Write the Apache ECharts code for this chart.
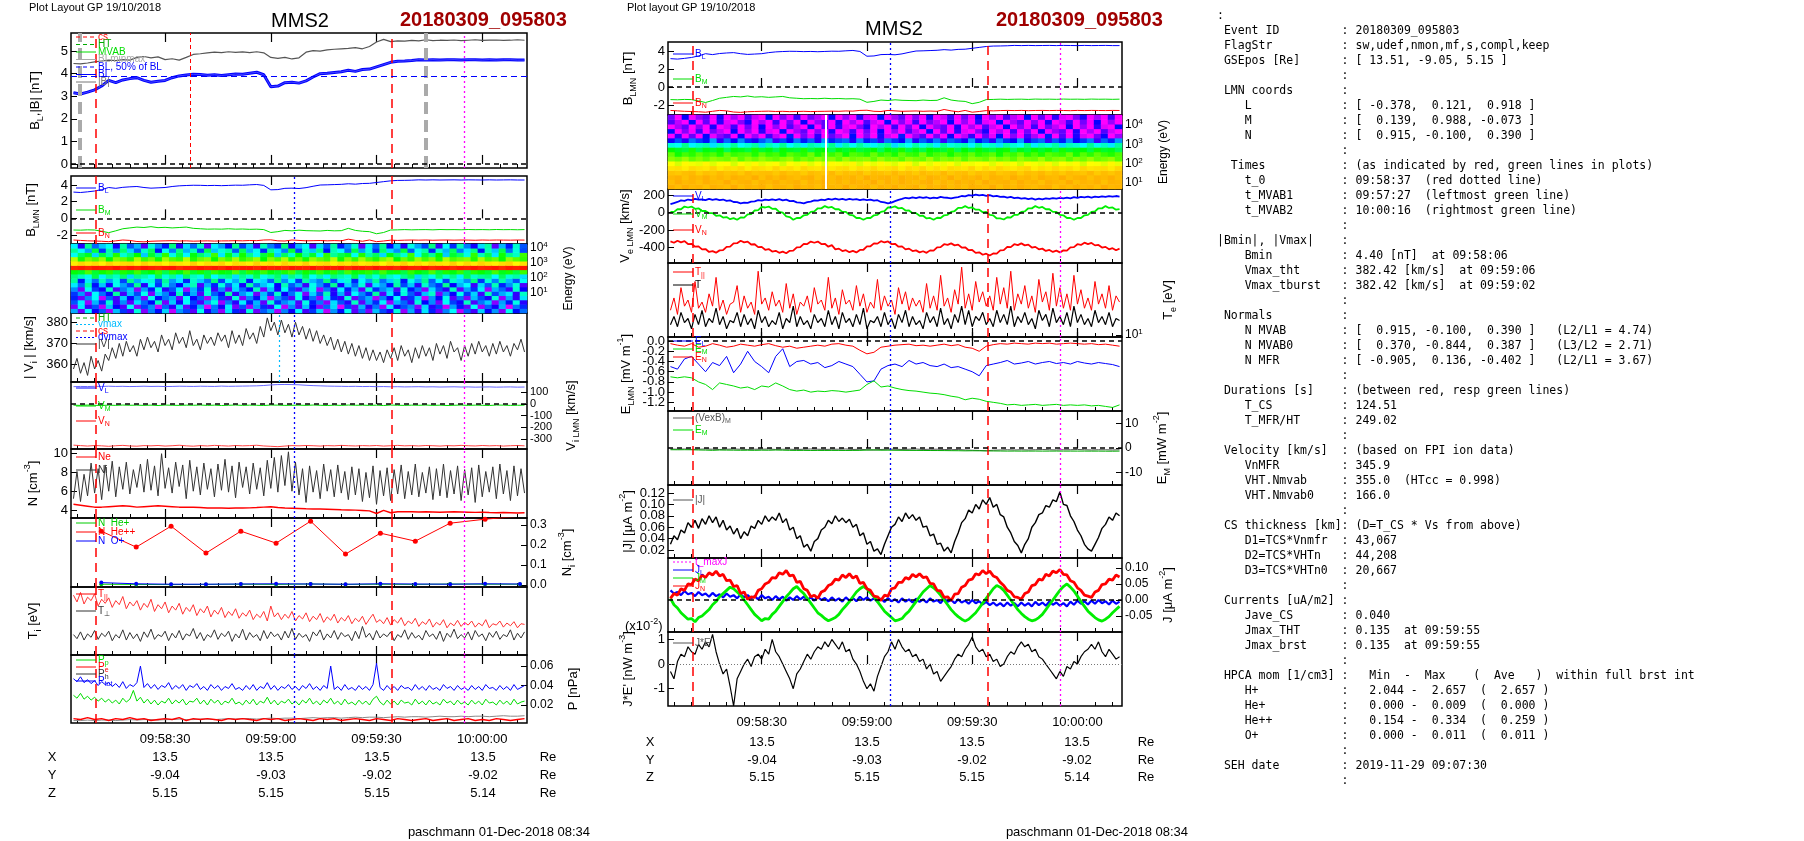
<!DOCTYPE html>
<html><head><meta charset="utf-8">
<script src="https://cdn.jsdelivr.net/npm/echarts@6/dist/echarts.min.js"></script>
<style>html,body{margin:0;padding:0;background:#fff}#c{width:1804px;height:841px}</style>
</head><body><div id="c"></div>
<script>
// ---------------- DATA ----------------
const T1 = []; for (let t = 4; t <= 132; t++) T1.push(t);        // seconds after 09:58:00, 1 s
const T2 = []; for (let t = 4; t <= 132; t += 2) T2.push(t);     // 2 s
const timeTicks = [30, 60, 90, 120];
const timeTickLabels = ['09:58:30', '09:59:00', '09:59:30', '10:00:00'];
const posX = ['13.5', '13.5', '13.5', '13.5'];
const posY = ['-9.04', '-9.03', '-9.02', '-9.02'];
const posZ = ['5.15', '5.15', '5.15', '5.14'];
const markTimes = { csL: 10.3, csR: 94.3, t0: 37, dvmax: 66.7, vmax: 62.3, maxJ: 115, grayL: 5.9, grayR: 103.9 };

const bMag = [4.45,4.43,4.47,4.52,4.56,4.6,4.58,4.62,4.6,4.72,4.76,4.7,4.74,4.62,4.66,4.6,4.72,4.85,4.88,4.92,4.95,4.93,4.97,4.94,4.96,4.93,4.97,4.92,4.72,4.68,4.72,4.65,4.7,4.95,5.02,5.0,5.05,5.08,5.1,5.12,5.15,5.1,5.2,5.4,5.52,5.42,5.45,5.44,5.47,5.45,5.5,5.46,5.48,5.47,5.49,5.46,5.48,5.5,5.47,5.48,5.49,5.47,5.48,5.5,5.48];
const bL = [3.15,3.1,3.18,3.28,3.45,3.7,3.6,3.72,3.78,3.82,3.7,3.62,3.66,3.7,3.82,3.9,3.94,3.97,3.96,3.93,3.95,3.92,3.95,3.98,3.97,4.02,4.06,3.95,3.42,3.45,3.6,3.62,3.58,3.68,3.85,4.0,4.02,4.05,4.08,4.15,4.1,4.18,4.2,4.3,4.4,4.5,4.55,4.56,4.58,4.62,4.6,4.62,4.6,4.61,4.62,4.6,4.62,4.61,4.6,4.62,4.6,4.61,4.62,4.6,4.6];
const bM = [-1.4,-1.42,-1.38,-1.4,-1.55,-1.72,-1.5,-1.25,-1.15,-1.05,-1.1,-1.0,-1.12,-1.08,-1.15,-1.1,-1.05,-1.2,-1.25,-1.3,-1.28,-1.3,-1.25,-1.3,-1.28,-1.32,-1.3,-1.35,-1.7,-1.6,-1.45,-1.5,-1.42,-1.48,-1.5,-1.52,-1.45,-1.5,-1.48,-1.2,-1.45,-1.55,-1.6,-1.85,-1.7,-1.4,-1.38,-1.35,-1.38,-1.36,-1.35,-1.38,-1.34,-1.36,-1.35,-1.37,-1.34,-1.36,-1.35,-1.37,-1.34,-1.36,-1.35,-1.37,-1.35];
const bN = [-2.6,-2.65,-2.7,-2.72,-2.75,-2.8,-2.7,-2.6,-2.65,-2.78,-2.82,-2.75,-2.72,-2.7,-2.68,-2.72,-2.7,-2.74,-2.72,-2.7,-2.73,-2.71,-2.7,-2.68,-2.7,-2.66,-2.68,-2.6,-2.58,-2.7,-2.72,-2.6,-2.65,-2.7,-2.68,-2.66,-2.7,-2.67,-2.7,-2.5,-2.65,-2.75,-2.6,-2.8,-2.72,-2.62,-2.65,-2.62,-2.6,-2.62,-2.6,-2.63,-2.61,-2.6,-2.62,-2.6,-2.61,-2.63,-2.6,-2.62,-2.6,-2.61,-2.62,-2.6,-2.61];

const viMag = [358,363,356,361,355,364,358,362,357,365, 362,368,363,370,364,371,366,369,364,372, 367,373,368,371,366,374,369,372,367,375, 370,373,368,376,369,372,367,374,370,373, 369,375,371,374,368,376,370,374,369,377, 372,375,370,378,373,382,376,380,374,381, 375,379,373,380,374,378,372,377,371,376, 370,374,369,373,367,372,366,371,365,370, 364,369,363,368,362,367,362,366,361,367, 363,368,362,369,364,367,361,368,363,369, 364,368,362,370,365,369,363,371,366,368, 362,369,364,370,365,371,366,369,364,370, 365,371,366,369,364,370,367,372,366];
const viL = [148,150,149,151,150,152,150,151,149,150,152,150,151,149,150,152,151,150,152,151,150,153,151,152,153,154,155,158,163,166,167,166,164,160,157,155,153,152,151,150,151,149,150,148,149,147,148,146,147,148,146,147,145,146,147,145,146,144,145,146,144,145,146,144,145];
const viM = [-10,-12,-9,-11,-13,-10,-12,-9,-11,-10,-12,-10,-13,-9,-11,-12,-10,-11,-9,-12,-10,-13,-11,-9,-12,-10,-11,-13,-9,-10,-12,-11,-10,-12,-9,-11,-13,-10,-12,-9,-11,-10,-12,-10,-13,-9,-11,-12,-10,-11,-9,-12,-10,-13,-11,-9,-12,-10,-11,-13,-9,-10,-12,-11,-10];
const viN = [-352,-356,-360,-355,-358,-362,-357,-354,-359,-361,-356,-358,-355,-360,-357,-353,-358,-361,-356,-359,-354,-357,-360,-355,-358,-356,-353,-359,-362,-365,-360,-356,-358,-355,-357,-360,-356,-358,-354,-357,-359,-356,-358,-355,-360,-357,-354,-358,-356,-359,-355,-357,-360,-356,-358,-354,-357,-359,-355,-358,-356,-360,-357,-355,-358];

const nI = [5.2,8.1,4.9,7.8,5.5,9.0,5.8,8.4,5.1,8.8, 6.0,9.2,5.4,8.6,6.2,9.1,5.7,8.3,6.4,8.9, 5.9,9.4,6.1,8.7,5.5,10.0,6.3,8.5,5.8,9.1, 6.5,8.8,5.2,9.3,6.0,8.6,5.6,9.0,6.2,8.4, 5.4,8.9,6.1,9.4,5.9,8.7,5.3,9.1,6.4,8.6, 5.7,9.0,6.2,8.5,5.5,9.3,6.3,9.6,5.9,9.8, 6.6,10.2,6.0,9.1,5.6,8.4,4.8,8.7,5.9,8.2, 5.2,8.9,6.0,8.3,5.4,8.8,5.8,8.1,5.1,8.6, 5.6,8.4,4.9,8.0,5.3,8.7,4.6,8.2,5.5,8.5, 5.0,8.3,5.7,8.8,5.2,8.1,5.6,8.9,5.4,8.0, 5.8,8.6,5.1,8.4,5.5,8.9,5.3,8.2,5.7,8.7, 5.0,8.3,5.6,8.5,4.8,8.8,5.4,8.1,5.9,8.6, 5.2,8.9,5.7,8.2,5.0,8.7,5.5,8.4,5.8];
const nE = [4.6,4.5,4.4,4.3,4.3,4.35,4.4,4.45,4.4,4.3,4.35,4.4,4.45,4.4,4.35,4.3,4.3,4.28,4.25,4.2,4.22,4.2,4.18,4.2,4.2,4.22,4.25,4.3,4.35,4.25,4.2,4.18,4.15,4.12,4.1,4.1,4.08,4.05,4.02,4.0,3.98,3.95,3.9,3.62,3.95,3.7,3.8,3.82,3.8,3.78,3.8,3.78,3.76,3.78,3.8,3.78,3.76,3.74,3.75,3.72,3.7,3.72,3.7,3.68,3.7];

const niT = [11.9,21.8,31.7,41.6,51.5,61.5,71.3,81.2,91.1,101,110.9,120.8,130.7];
const niHePP = [0.27,0.19,0.295,0.16,0.27,0.21,0.32,0.155,0.26,0.22,0.31,0.33,0.345];
const niHeP = [0.004,0.003,0.002,0.003,0.004,0.003,0.005,0.003,0.004,0.003,0.005,0.004,0.004];
const niOP = [0.012,0.006,0.004,0.004,0.005,0.006,0.005,0.004,0.006,0.005,0.004,0.006,0.005];

const tiPar = [88,78,92,75,85,80,90,72,82,76, 84,70,80,74,86,68,78,72,80,66, 76,70,82,64,74,68,78,62,72,66, 76,60,70,64,74,58,68,62,72,56, 66,60,70,55,64,58,68,54,62,57, 66,52,60,55,64,50,72,56,62,52, 60,54,64,50,58,53,62,49,57,52, 61,48,56,51,60,47,55,50,58,46, 54,49,57,45,53,60,48,52,46,55, 44,52,47,55,43,50,46,54,42,49, 45,53,41,48,44,52,40,47,43,51, 42,48,44,50,41,47,43,52,40,46, 44,50,41,47,43,49,40,46,45];
const tiPerp = [30,24,34,22,31,26,36,23,32,27, 35,21,30,25,37,22,33,24,31,20, 34,26,38,23,30,27,35,21,32,25, 36,22,31,28,39,24,33,21,30,26, 37,23,32,27,35,20,31,25,38,22, 33,26,30,21,36,24,34,27,31,22, 35,25,39,23,32,26,30,20,34,28, 37,22,31,25,36,23,33,27,30,21, 35,24,42,26,32,22,36,25,31,27, 34,21,30,26,37,23,33,25,29,22, 36,27,31,23,35,20,32,26,38,24, 30,25,34,22,36,27,31,21,33,26, 35,23,30,27,37,22,32,25,34];

const pTot = [.047,.044,.049,.043,.046,.042,.045,.040,.044,.041, .043,.039,.042,.038,.044,.037,.041,.039,.043,.060, .038,.042,.037,.041,.036,.040,.038,.043,.036,.040, .037,.041,.035,.040,.038,.042,.036,.039,.035,.041, .037,.040,.035,.039,.037,.042,.036,.038,.035,.040, .036,.041,.035,.039,.037,.043,.036,.040,.035,.039, .037,.041,.036,.039,.035,.040,.037,.042,.036,.039, .035,.040,.037,.060,.036,.039,.035,.041,.036,.038, .035,.040,.036,.039,.035,.041,.063,.038,.035,.040, .036,.039,.035,.040,.037,.038,.035,.041,.036,.039, .035,.040,.036,.038,.035,.041,.037,.039,.035,.040, .036,.038,.035,.040,.036,.039,.035,.041,.037,.038, .035,.040,.036,.039,.035,.041,.036,.038,.040];
const pP = [.030,.027,.032,.026,.029,.025,.028,.024,.027,.023, .026,.022,.025,.021,.027,.023,.026,.035,.024,.028, .022,.026,.021,.025,.020,.024,.022,.027,.021,.025, .022,.026,.020,.024,.023,.027,.021,.025,.020,.026, .022,.025,.020,.024,.022,.027,.021,.023,.020,.025, .021,.026,.020,.024,.022,.028,.021,.025,.020,.024, .022,.026,.021,.024,.020,.025,.022,.027,.021,.024, .020,.025,.022,.027,.021,.024,.020,.026,.021,.023, .020,.025,.021,.024,.020,.026,.029,.023,.020,.025, .021,.024,.020,.025,.022,.023,.020,.026,.021,.024, .020,.025,.021,.023,.020,.026,.022,.024,.020,.025, .021,.023,.020,.025,.021,.024,.020,.026,.022,.023, .020,.025,.021,.024,.020,.026,.021,.023,.024];
const pB = [.006,.005,.007,.005,.006,.004,.006,.005,.007,.005,.006,.004,.005,.006,.005,.007,.004,.006,.005,.006,.005,.004,.006,.005,.006,.005,.004,.006,.005,.006,.004,.005,.006,.005,.004,.006,.005,.006,.004,.005,.006,.005,.004,.006,.005,.004,.006,.005,.004,.005,.006,.004,.005,.006,.004,.005,.006,.004,.005,.004,.006,.005,.004,.005,.006];
const pH = [.004,.004,.0045,.004,.0045,.0045,.004,.0045,.005,.0045,.005,.005,.0045,.005,.005,.0055,.005,.005,.0055,.0055,.005,.0055,.006,.0055,.006,.006,.0055,.006,.0065,.006,.0065,.0065,.006,.0065,.007,.0065,.007,.007,.0065,.007,.0075,.007,.0075,.0075,.007,.0075,.008,.0075,.008,.008,.0075,.008,.0085,.008,.008,.0085,.008,.0085,.0085,.008,.0085,.009,.0085,.0085,.009];

const veL = [95,108,120,138,132,148,140,155,146,150, 142,156,145,152,140,148,132,138,120,118, 105,112,110,125,128,140,135,148,140,150, 142,152,138,146,130,132,115,112,105,118, 125,138,135,148,142,155,146,158,148,156, 145,155,148,152,140,150,142,148,135,140, 120,115,105,112,130,145,155,168,160,172, 165,175,168,174,162,170,165,178,170,168, 160,170,175,188,185,198,192,205,195,200, 190,198,185,190,178,182,170,178,165,170, 158,165,152,160,148,158,150,162,155,165, 158,168,160,170,162,175,168,178,172,180, 170,182,175,185,178,186,180,188,182];
const veM = [8,7,38,37,68,57,68,42,48,17, 18,-8,-7,-38,-32,-58,-52,-76,-64,-83, -57,-58,-22,-18,23,27,63,57,68,42, 43,7,-2,-43,-52,-83,-62,-63,-32,-28, 8,12,48,47,73,55,63,37,38,7, 8,-28,-32,-63,-62,-83,-62,-63,-32,-28, 8,17,58,57,70,47,53,22,23,-8, -7,-38,-37,-68,-62,-83,-60,-63,-32,-28, 8,17,53,52,73,52,58,32,33,2, 8,-28,-32,-68,-67,-80,-54,-58,-27,-28, 8,12,48,47,73,54,63,37,38,7, 8,-28,-32,-63,-62,-83,-62,-63,-32,-28, 8,12,48,47,73,52,58,32,38];
const veN = [-330,-345,-322,-340,-327,-360,-357,-390,-387,-420, -417,-450,-440,-458,-432,-430,-392,-390,-352,-350, -322,-340,-332,-365,-362,-395,-392,-425,-417,-445, -437,-460,-447,-465,-437,-435,-397,-395,-357,-360, -332,-345,-332,-360,-357,-390,-372,-420,-412,-440, -430,-453,-438,-455,-427,-425,-387,-385,-352,-355, -327,-342,-330,-360,-357,-390,-387,-420,-412,-440, -432,-455,-442,-460,-432,-435,-397,-395,-362,-370, -352,-375,-367,-400,-397,-430,-427,-460,-454,-482, -470,-490,-467,-470,-432,-430,-392,-395,-362,-372, -352,-375,-367,-400,-392,-420,-412,-438,-427,-450, -435,-455,-432,-435,-397,-395,-362,-370,-344,-360, -347,-375,-370,-400,-392,-420,-407,-430,-412];

const tePerp = [15,19,14,21,16,18,13,20,15,22, 14,18,16,23,15,19,13,17,16,21, 14,20,15,18,13,22,16,19,14,17, 15,21,13,18,16,24,14,19,15,17, 13,20,16,18,14,22,15,19,13,21, 16,18,14,20,15,23,13,17,16,19, 14,21,15,18,13,20,16,22,14,19, 15,17,13,21,16,19,14,23,15,18, 13,20,16,24,15,22,14,19,17,21, 15,18,14,22,16,20,15,24,14,19, 16,21,15,18,13,22,17,20,14,23, 16,19,15,21,14,24,16,20,15,18, 14,22,16,19,15,21,14,18,17];
const tePar = [22,28,20,33,24,27,21,36,23,26, 21,30,24,38,22,27,20,25,26,34, 21,29,23,26,20,41,25,28,22,31, 24,27,21,35,23,30,20,26,24,29, 21,33,25,27,22,38,23,28,20,32, 25,27,22,34,24,30,21,26,23,37, 22,29,24,27,20,33,25,31,22,28, 24,27,21,35,23,29,22,39,24,28, 21,32,25,43,23,30,22,36,26,31, 24,29,22,38,25,33,23,41,22,30, 25,34,23,29,21,37,26,31,22,40, 24,33,23,30,22,39,25,32,23,28, 22,36,25,30,23,34,22,29,26];

const eN = [-0.05,-0.08,-0.1,-0.05,-0.12,-0.1,-0.05,-0.08,-0.12,-0.1,-0.06,-0.08,-0.1,-0.07,-0.05,-0.09,-0.12,-0.1,-0.14,-0.12,-0.1,-0.08,-0.1,-0.06,-0.05,-0.08,-0.1,-0.18,-0.25,-0.22,-0.12,-0.1,-0.08,-0.07,-0.06,-0.09,-0.08,-0.1,-0.08,-0.06,-0.09,-0.07,-0.12,-0.14,-0.2,-0.1,-0.07,-0.05,-0.06,-0.04,-0.05,-0.06,-0.04,-0.05,-0.04,-0.06,-0.05,-0.04,-0.05,-0.06,-0.05,-0.07,-0.06,-0.08,-0.1];
const eL = [-0.5,-0.55,-0.35,-0.3,-0.45,-0.6,-0.42,-0.48,-0.3,-0.62,-0.45,-0.2,-0.4,-0.5,-0.62,-0.3,-0.15,-0.5,-0.4,-0.38,-0.45,-0.42,-0.52,-0.48,-0.4,-0.45,-0.5,-0.65,-0.8,-0.78,-0.55,-0.48,-0.45,-0.5,-0.38,-0.45,-0.42,-0.48,-0.5,-0.45,-0.52,-0.5,-0.55,-0.6,-0.68,-0.48,-0.45,-0.42,-0.38,-0.45,-0.43,-0.4,-0.45,-0.42,-0.4,-0.44,-0.42,-0.45,-0.4,-0.43,-0.45,-0.42,-0.44,-0.46,-0.5];
const eM = [-0.7,-0.72,-0.7,-0.72,-0.8,-0.85,-0.95,-0.82,-0.85,-0.88,-0.92,-0.9,-0.95,-0.88,-0.9,-0.82,-0.88,-0.95,-0.98,-0.96,-1.0,-0.98,-0.99,-0.97,-0.98,-1.0,-0.98,-0.96,-0.85,-0.78,-0.9,-0.88,-0.92,-0.95,-0.97,-0.98,-1.0,-1.02,-1.03,-1.05,-1.08,-1.1,-1.15,-1.12,-1.14,-1.18,-1.2,-1.22,-1.25,-1.24,-1.26,-1.25,-1.24,-1.26,-1.25,-1.24,-1.26,-1.25,-1.26,-1.25,-1.27,-1.26,-1.28,-1.3,-1.25];
const vexbM = [-0.4,-0.5,-0.4,-0.6,-0.5,-0.4,-0.5,-0.6,-0.5,-0.4,-0.5,-0.6,-0.5,-0.5,-0.4,-0.6,-0.5,-0.5,-0.6,-0.5,-0.4,-0.5,-0.6,-0.5,-0.5,-0.4,-0.6,-0.5,-0.7,-0.8,-0.6,-0.5,-0.5,-0.6,-0.5,-0.4,-0.6,-0.5,-0.5,-0.6,-0.7,-0.6,-0.8,-0.9,-1.0,-1.1,-0.9,-0.8,-0.7,-0.8,-0.7,-0.8,-0.7,-0.6,-0.7,-0.8,-0.7,-0.7,-0.6,-0.7,-0.8,-0.7,-0.7,-0.8,-0.7];

const jMag = [.030,.045,.038,.055,.050,.068,.060,.072,.058,.075, .065,.080,.068,.078,.060,.072,.055,.062,.048,.058, .040,.052,.045,.062,.058,.072,.065,.080,.070,.078, .072,.085,.068,.075,.055,.060,.040,.045,.025,.030, .018,.035,.040,.055,.060,.072,.066,.080,.070,.076, .068,.074,.060,.065,.045,.050,.030,.035,.018,.022, .012,.030,.045,.060,.065,.078,.070,.085,.075,.082, .072,.078,.060,.062,.045,.048,.030,.032,.018,.025, .015,.035,.050,.068,.075,.090,.085,.100,.092,.108, .100,.112,.095,.100,.082,.078,.060,.050,.035,.028, .015,.030,.040,.060,.068,.082,.085,.098,.095,.108, .105,.122,.100,.098,.080,.070,.055,.045,.030,.022, .018,.030,.042,.058,.065,.078,.072,.085,.080];
const jN = [.005,.020,.015,.035,.030,.050,.048,.065,.060,.078, .070,.085,.078,.090,.075,.080,.060,.062,.042,.045, .020,.025,.002,.010,.008,.030,.035,.050,.055,.070, .068,.085,.080,.092,.075,.078,.055,.058,.035,.030, .010,.015,.005,.025,.030,.045,.050,.065,.062,.078, .070,.082,.068,.075,.052,.055,.035,.030,.012,.010, -.002,.015,.012,.035,.038,.055,.055,.070,.065,.080, .072,.082,.070,.072,.052,.050,.030,.028,.008,.010, -.002,.018,.020,.040,.045,.062,.065,.082,.078,.092, .082,.090,.075,.070,.055,.045,.030,.025,.010,.008, .002,.020,.025,.045,.048,.065,.062,.080,.075,.090, .085,.095,.080,.078,.060,.055,.038,.030,.015,.012, .008,.025,.030,.048,.050,.065,.062,.078,.072];
const jM = [.005,-.015,-.025,-.040,-.050,-.060,-.058,-.068,-.055,-.050, -.040,-.030,-.015,-.005,.010,.020,.030,.040,.035,.025, .015,.000,-.015,-.030,-.045,-.055,-.065,-.058,-.060,-.045, -.035,-.020,-.005,.010,.022,.035,.042,.030,.020,.005, -.010,-.025,-.040,-.048,-.058,-.065,-.060,-.055,-.045,-.030, -.018,-.005,.010,.025,.035,.042,.035,.022,.010,-.005, -.020,-.035,-.045,-.055,-.065,-.062,-.058,-.045,-.035,-.020, -.005,.010,.025,.035,.045,.038,.028,.015,.000,-.015, -.030,-.042,-.052,-.060,-.066,-.060,-.050,-.040,-.025,-.010, .005,.020,.035,.045,.040,.030,.015,.000,-.015,-.030, -.042,-.052,-.060,-.065,-.062,-.055,-.045,-.030,-.015,.000, .015,.030,.042,.050,.040,.028,.012,-.005,-.020,-.035, -.045,-.055,-.062,-.066,-.060,-.052,-.040,-.030,-.020];
const jL = [.030,.020,.025,.015,.028,.018,.022,.012,.025,.015, .020,.010,.022,.012,.018,.008,.020,.010,.015,.005, .018,.008,.015,.005,.012,.002,.015,.005,.010,.000, .012,.002,.010,-.002,.008,.000,.012,.002,.010,.000, .008,-.002,.010,.000,.006,-.004,.008,-.002,.005,-.005, .008,-.002,.006,-.004,.010,.000,.008,-.002,.005,-.005, .004,-.006,.006,-.004,.002,-.008,.005,-.005,.002,-.008, .004,-.006,.002,-.008,.005,-.005,.000,-.010,.004,-.006, .000,-.010,.002,-.008,-.002,-.012,.000,-.010,-.004,-.014, -.006,-.016,-.008,-.018,-.010,-.020,-.008,-.018,-.010,-.020, -.008,-.018,-.010,-.020,-.006,-.016,-.008,-.018,-.005,-.015, -.008,-.018,-.010,-.020,-.005,-.015,-.002,-.012,-.004,-.014, -.002,-.012,.000,-.010,-.004,-.014,-.002,-.012,-.005];
const jDotE = [-0.3,-0.6,0.1,0.4,0.3,0.7,0.5,0.4,0.8,0.6, 0.9,0.7,1.2,0.5,0.0,-0.4,-0.2,-0.9,-1.7,-0.6, -0.3,0.0,0.2,-0.1,0.3,0.4,0.2,0.6,0.4,1.0, 0.5,0.3,0.0,-0.3,-0.6,-1.0,-0.4,-0.2,0.1,0.4, 0.2,0.5,0.7,0.6,0.9,0.7,1.0,0.8,0.6,0.9, 0.5,0.6,0.2,0.0,-0.3,-0.7,-1.0,-0.8,-1.1,-0.5, -0.1,0.3,0.5,0.9,0.6,1.0,0.7,0.5,0.6,0.3, 0.4,0.1,0.2,-0.2,0.0,-0.4,-0.3,-0.7,-0.5,-0.3, -0.1,0.2,0.4,0.3,0.6,0.8,1.1,0.7,0.5,0.6, 0.3,0.4,0.1,0.2,-0.1,0.0,0.3,0.5,0.4,0.7, 0.9,0.7,0.8,0.5,0.6,0.3,0.2,0.0,-0.2,-0.4, -0.6,-0.3,-0.5,-0.1,-0.2,0.1,0.0,0.3,0.5,0.6, 0.8,0.6,0.9,0.5,0.3,0.6,0.4,0.2,0.3];

// spectrograms: energy profiles (bottom -> top), texture amplitude per row, time texture
const specIonProfile = [0.2,0.18,0.22,0.2,0.24,0.22,0.26,0.3,0.38,0.5,0.97,0.72,0.56,0.42,0.32,0.26];
const specIonTexAmp  = [1.3,1.3,1.3,1.3,1.3,1.3,1.2,1.0,0.6,0.4,0.1,0.3,0.5,1.0,1.2,1.3];
const specEleProfile = [0.8,0.8,0.8,0.78,0.72,0.66,0.58,0.54,0.48,0.36,0.2,0.04,0.03,0.03,0.03,0.03];
const specEleTexAmp  = [0.15,0.15,0.15,0.15,0.2,0.2,0.2,0.25,0.3,0.4,0.6,1.2,1.2,1.2,1.2,1.2];
const specTexture = [0.06,-0.08,0.1,-0.03,0.02,-0.11,0.07,0.0,-0.06,0.12,-0.09,0.04,-0.02,0.08,-0.12,0.05,0.01,-0.07,0.11,-0.04,0.03,-0.1,0.09,-0.01,-0.05,0.12,-0.08,0.02,0.06,-0.11,0.04,-0.03,0.1,-0.06,0.0,0.08,-0.12,0.05,-0.02,0.11,-0.07,0.03,-0.09,0.07,0.01,-0.04,0.12,-0.1,0.06,-0.05,0.09,-0.01,-0.08,0.04,0.1,-0.12,0.02,-0.06,0.08,-0.03,0.05,-0.09,0.11,-0.02,0.03];
const specColors = ['#ff00ff','#0000ff','#00ffff','#00ff00','#ffff00','#ffa500','#ff0000'];

// ---------------- BUILD ----------------
const FONT = '"Liberation Sans", Arial, sans-serif';
const RICH = {
  sub: { fontSize: 9, fontFamily: FONT, color: '#000', verticalAlign: 'bottom', lineHeight: 20 },
  sup: { fontSize: 9, fontFamily: FONT, color: '#000', verticalAlign: 'top', lineHeight: 20 }
};
const RICH_TIGHT = {
  sup: { fontSize: 8, fontFamily: FONT, color: '#000', lineHeight: 6, padding: [0, 0, 6, 0] }
};
const XMIN = 3.3, XMAX = 132.7;
const MINOR = [5,10,15,20,25,35,40,45,50,55,65,70,75,80,85,95,100,105,110,115,125,130];
const grids = [], xAxes = [], yAxes = [], series = [], visualMaps = [], graphics = [], manualLabels = [];

function panel(o) {
  const gi = grids.length;
  grids.push({ left: o.x, top: o.top, width: o.w, height: o.h, show: true, borderColor: '#000', borderWidth: 1.5, backgroundColor: 'rgba(0,0,0,0)' });
  const xi = xAxes.length;
  xAxes.push({ gridIndex: gi, type: 'value', min: XMIN, max: XMAX, position: 'bottom',
    axisLine: { show: false }, splitLine: { show: false },
    axisTick: { show: true, inside: true, length: 9, customValues: timeTicks, lineStyle: { color: '#000', width: 1.2 } },
    axisLabel: { show: !!o.xLabels, customValues: timeTicks, formatter: v => timeTickLabels[timeTicks.indexOf(v)] || '', fontSize: 13, fontFamily: FONT, color: '#000', margin: 10, showMinLabel: true, showMaxLabel: true } });
  xAxes.push({ gridIndex: gi, type: 'value', min: XMIN, max: XMAX, position: 'top',
    axisLine: { show: false }, splitLine: { show: false },
    axisTick: { show: true, inside: true, length: 9, customValues: timeTicks, lineStyle: { color: '#000', width: 1.2 } },
    axisLabel: { show: false } });
  xAxes.push({ gridIndex: gi, type: 'value', min: XMIN, max: XMAX, position: 'bottom',
    axisLine: { show: false }, splitLine: { show: false },
    axisTick: { show: true, inside: true, length: 4, customValues: MINOR, lineStyle: { color: '#000' } },
    axisLabel: { show: false } });
  const yi = yAxes.length;
  if (o.manual) manualLabels.push({ yi, ticks: o.ticks, fmt: o.fmt, side: o.side || 'left', x: o.x, w: o.w, fs: o.fs || 13 });
  yAxes.push({ gridIndex: gi, type: 'value', min: o.ymin, max: o.ymax, position: o.side || 'left',
    axisLine: { show: false }, splitLine: { show: false },
    axisTick: { show: !!o.ticks, inside: true, length: 6, customValues: o.ticks, lineStyle: { color: '#000' } },
    axisLabel: { show: !!o.ticks && !o.manual, customValues: o.ticks, formatter: o.fmt, fontSize: o.fs || 13, fontFamily: FONT, color: '#000', margin: 3,
      lineHeight: o.lh, rich: o.lh ? RICH_TIGHT : RICH, showMinLabel: true, showMaxLabel: true, hideOverlap: false },
    name: o.name, nameLocation: 'middle', nameRotate: 90, nameGap: o.gap || 30,
    nameTextStyle: { fontSize: 13, fontFamily: FONT, color: '#000', lineHeight: 20, rich: RICH } });
  return { gi, xi, yi };
}
function line(p, ts, vs, color, w, extra) {
  const data = [];
  for (let i = 0; i < vs.length && i < ts.length; i++) data.push([ts[i], vs[i]]);
  const s = Object.assign({ type: 'line', xAxisIndex: p.xi, yAxisIndex: p.yi, data, showSymbol: false, symbol: 'none',
    lineStyle: { color, width: w || 1 }, itemStyle: { color }, animation: false, silent: true, z: 3 }, extra || {});
  series.push(s); return s;
}
const RED_DASH = { color: '#ff0000', type: [9, 6], width: 1.5 };
function vm(t, style) { return { xAxis: t, lineStyle: style }; }
function std(extra) {
  const d = [vm(markTimes.csL, RED_DASH), vm(markTimes.csR, RED_DASH),
    vm(markTimes.dvmax, { color: '#0000ff', type: [2, 3], width: 1.3 }),
    vm(markTimes.maxJ, { color: '#ff00ff', type: [2, 3], width: 1.3 })];
  return d.concat(extra || []);
}
const ZERO = { yAxis: 0, lineStyle: { color: '#000', type: [5, 4], width: 1.5 } };
function markLine(data) { return { symbol: 'none', silent: true, animation: false, label: { show: false }, data }; }

function spec(o, profile, texAmp) {
  const gi = grids.length;
  grids.push({ left: o.x, top: o.top, width: o.w, height: o.h, show: true, borderColor: '#000', borderWidth: 1.5, backgroundColor: 'rgba(0,0,0,0)' });
  const bins = specTexture.map((v, i) => i);
  const rows = profile.map((v, j) => j);
  const xc = xAxes.length; xAxes.push({ gridIndex: gi, type: 'category', data: bins, show: false });
  const xv = xAxes.length; xAxes.push({ gridIndex: gi, type: 'value', min: XMIN, max: XMAX, position: 'bottom',
    axisLine: { show: false }, splitLine: { show: false }, axisLabel: { show: false },
    axisTick: { show: true, inside: true, length: 9, customValues: timeTicks, lineStyle: { color: '#000', width: 1.2 } } });
  const yc = yAxes.length; yAxes.push({ gridIndex: gi, type: 'category', data: rows, show: false });
  const yv = yAxes.length; yAxes.push({ gridIndex: gi, type: 'value', position: 'right', min: o.emin, max: o.emax,
    axisLine: { show: false }, splitLine: { show: false },
    axisTick: { show: true, inside: true, length: 5, customValues: [1, 2, 3, 4], lineStyle: { color: '#000' } },
    axisLabel: { customValues: [1, 2, 3, 4], formatter: v => '10{sup|' + v + '}', fontSize: 12, lineHeight: 8, fontFamily: FONT, color: '#000', margin: 3, rich: RICH_TIGHT, showMinLabel: true, showMaxLabel: true, hideOverlap: false },
    name: 'Energy (eV)', nameLocation: 'middle', nameRotate: 90, nameGap: 36, nameTextStyle: { fontSize: 12, fontFamily: FONT, color: '#000' } });
  const data = [];
  for (let i = 0; i < bins.length; i++) for (let j = 0; j < rows.length; j++) {
    const v = profile[j] + texAmp[j] * specTexture[(i + j * 17) % specTexture.length];
    data.push([i, j, Math.max(0, Math.min(1, v))]);
  }
  series.push({ type: 'heatmap', xAxisIndex: xc, yAxisIndex: yc, data, animation: false, silent: true, z: 2 });
  visualMaps.push({ type: 'continuous', show: false, seriesIndex: series.length - 1, dimension: 2, min: 0, max: 1, inRange: { color: specColors } });
  if (o.white) series.push({ type: 'line', xAxisIndex: xv, yAxisIndex: yv, data: [[XMIN, o.emin]], symbol: 'none', z: 4,
    markLine: markLine([{ xAxis: o.white, lineStyle: { color: '#fff', width: 2, type: 'solid' } }]) });
}

// legend helper (label may contain {s|subscript})
function leg(x, y, label, color, dash, w) {
  graphics.push({ type: 'line', shape: { x1: x, y1: y, x2: x + 20, y2: y }, style: { stroke: color, lineWidth: w || 1, lineDash: dash || null }, z: 100 });
  graphics.push({ type: 'text', x: x + 22, y: y, z: 100, style: { text: label, fill: color, font: '10px ' + FONT, textVerticalAlign: 'middle', verticalAlign: 'middle',
    rich: { s: { fontSize: 7, fill: color, fontFamily: FONT, padding: [7, 0, 0, 0] } } } });
}

// ---------- LEFT COLUMN ----------
const LX = 71, LW = 456;
let p;
p = panel({ x: LX, top: 33, w: LW, h: 135, ymin: -0.18, ymax: 5.8, ticks: [0,1,2,3,4,5], name: 'B{sub|L},|B| [nT]', gap: 26 });
line(p, T2, bMag, '#555555', 1.2, { markLine: markLine([vm(markTimes.csL, RED_DASH), vm(markTimes.csR, RED_DASH),
  vm(markTimes.t0, { color: '#ff0000', type: [4, 3], width: 1 }),
  vm(markTimes.grayL, { color: '#aaaaaa', type: [12, 6], width: 4 }), vm(markTimes.grayR, { color: '#aaaaaa', type: [12, 6], width: 4 }),
  vm(markTimes.maxJ, { color: '#ff00ff', type: [2, 3], width: 1.3 }), ZERO,
  { yAxis: 3.9, lineStyle: { color: '#0000ff', type: [6, 4], width: 1 } }]) });
line(p, T2, bL, '#0000ff', 3);
line(p, T2, bL, '#4444ff', 1);
[['cs', '#ff0000', [4, 3]], ['HT', '#00aa00', [4, 3]], ['MVAB', '#00dd00', null], ['BLminmax', '#aaaaaa', null], ['BL, 50% of BL', '#0000ff', [4, 3]], ['BL', '#0000ff', null], ['|B|', '#777777', null]]
  .forEach((l, k) => leg(LX + 5, 37 + k * 7.5, l[0], l[1], l[2]));

p = panel({ x: LX, top: 176, w: LW, h: 68, ymin: -3.08, ymax: 5.08, ticks: [-2,0,2,4], name: 'B{sub|LMN} [nT]', gap: 30 });
line(p, T2, bL, '#0000ff', 1, { markLine: markLine(std([ZERO])) });
line(p, T2, bM, '#00dd00', 1);
line(p, T2, bN, '#ff0000', 1);
leg(LX + 5, 188, 'B{s|L}', '#0000ff'); leg(LX + 5, 210, 'B{s|M}', '#00dd00'); leg(LX + 5, 233, 'B{s|N}', '#ff0000');

spec({ x: LX, top: 244, w: LW, h: 69, emin: -0.33, emax: 4.27 }, specIonProfile, specIonTexAmp);

p = panel({ x: LX, top: 313, w: LW, h: 69, ymin: 351.9, ymax: 384.3, ticks: [360,370,380], name: '| V{sub|i} | [km/s]', gap: 32 });
line(p, T1, viMag, '#333333', 1, { markLine: markLine(std([vm(markTimes.vmax, { color: '#00bbff', type: [2, 3], width: 1.2 })])) });
[['HT', '#00aa00', [4, 3]], ['vmax', '#00bbff', [2, 2]], ['cs', '#ff0000', [4, 3]], ['dvmax', '#0000ff', [2, 2]], ['|V|', '#333333', null]]
  .forEach((l, k) => leg(LX + 5, 318 + k * 6.5, l[0], l[1], l[2]));

p = panel({ x: LX, top: 382, w: LW, h: 67, ymin: -385, ymax: 188, ticks: [100,0,-100,-200,-300], side: 'right', name: 'V{sub|i LMN} [km/s]', gap: 34, fs: 11, lh: 8 });
line(p, T2, viL, '#6666ff', 1, { markLine: markLine(std([ZERO])) });
line(p, T2, viM, '#00dd00', 1);
line(p, T2, viN, '#ff4444', 1);
leg(LX + 5, 388, 'V{s|L}', '#0000ff'); leg(LX + 5, 406, 'V{s|M}', '#00dd00'); leg(LX + 5, 421, 'V{s|N}', '#ff0000');

p = panel({ x: LX, top: 449, w: LW, h: 69, ymin: 3.14, ymax: 10.5, ticks: [4,6,8,10], name: 'N [cm{sup|-3}]', gap: 28 });
line(p, T1, nI, '#333333', 1, { markLine: markLine(std()) });
line(p, T2, nE, '#ff0000', 1.5);
leg(LX + 5, 457, 'Ne', '#ff0000'); leg(LX + 5, 470, 'Ni', '#333333');

p = panel({ x: LX, top: 518, w: LW, h: 69, ymin: -0.01, ymax: 0.336, ticks: [0, 0.1, 0.2, 0.3], fmt: v => v.toFixed(1), side: 'right', name: 'N{sub|i} [cm{sup|-3}]', gap: 30, fs: 12 });
line(p, niT, niHePP, '#ff0000', 1, { showSymbol: true, symbol: 'circle', symbolSize: 5, markLine: markLine(std()) });
line(p, niT, niHeP, '#00cc00', 1, { showSymbol: true, symbol: 'circle', symbolSize: 4 });
line(p, niT, niOP, '#0000ff', 1, { showSymbol: true, symbol: 'circle', symbolSize: 4 });
leg(LX + 5, 523, 'N  He+', '#00cc00'); leg(LX + 5, 532, 'N  He++', '#ff0000'); leg(LX + 5, 541, 'N  O+', '#0000ff');

p = panel({ x: LX, top: 587, w: LW, h: 68, ymin: 0, ymax: 100, name: 'T{sub|i} [eV]', gap: 28 });
line(p, T1, tiPar, '#ff3333', 1, { markLine: markLine(std()) });
line(p, T1, tiPerp, '#333333', 1);
leg(LX + 5, 594, 'T{s|||}', '#ff0000'); leg(LX + 5, 611, 'T{s|⊥}', '#333333');

p = panel({ x: LX, top: 655, w: LW, h: 68, ymin: 0.0015, ymax: 0.0714, ticks: [0.02, 0.04, 0.06], fmt: v => v.toFixed(2), side: 'right', name: 'P [nPa]', gap: 36, xLabels: true, fs: 12 });
line(p, T1, pTot, '#0000ff', 1, { markLine: markLine(std()) });
line(p, T1, pP, '#00dd00', 1);
line(p, T2, pH, '#888888', 1);
line(p, T2, pB, '#ff0000', 1.5);
leg(LX + 5, 660, 'P{s|p}', '#00dd00'); leg(LX + 5, 667, 'P{s|e}', '#ff0000'); leg(LX + 5, 674, 'P{s|h}', '#333333'); leg(LX + 5, 681, 'P{s|tot}', '#0000ff');

// ---------- MIDDLE COLUMN ----------
const MX = 668, MW = 454;
p = panel({ x: MX, top: 42, w: MW, h: 73, ymin: -3.11, ymax: 5.0, ticks: [-2,0,2,4], name: 'B{sub|LMN} [nT]', gap: 30 });
line(p, T2, bL, '#0000ff', 1, { markLine: markLine(std([ZERO])) });
line(p, T2, bM, '#00dd00', 1);
line(p, T2, bN, '#ff0000', 1);
leg(MX + 5, 54, 'B{s|L}', '#0000ff'); leg(MX + 5, 79, 'B{s|M}', '#00dd00'); leg(MX + 5, 103, 'B{s|N}', '#ff0000');

spec({ x: MX, top: 115, w: MW, h: 74, emin: 0.67, emax: 4.52, white: 48.3 }, specEleProfile, specEleTexAmp);

p = panel({ x: MX, top: 189, w: MW, h: 74, ymin: -576, ymax: 268, ticks: [200,0,-200,-400], name: 'V{sub|e LMN} [km/s]', gap: 32 });
line(p, T1, veL, '#0000ff', 1.8, { markLine: markLine(std([ZERO])) });
line(p, T1, veM, '#00ee00', 1.8);
line(p, T1, veN, '#ff0000', 1.8);
leg(MX + 5, 196, 'V{s|L}', '#0000ff'); leg(MX + 5, 214, 'V{s|M}', '#00dd00'); leg(MX + 5, 230, 'V{s|N}', '#ff0000');

p = panel({ x: MX, top: 263, w: MW, h: 74, ymin: 9, ymax: 45, ticks: [10], fmt: v => '10{sup|1}', side: 'right', name: 'T{sub|e} [eV]', gap: 36, fs: 12, lh: 8 });
line(p, T1, tePar, '#ff0000', 1, { markLine: markLine(std()) });
line(p, T1, tePerp, '#000000', 1.2);
leg(MX + 5, 272, 'T{s|||}', '#ff0000'); leg(MX + 5, 285, 'T', '#000000');

p = panel({ x: MX, top: 337, w: MW, h: 74, ymin: -1.37, ymax: 0.08, ticks: [0,-0.2,-0.4,-0.6,-0.8,-1.0,-1.2], fmt: v => v.toFixed(1), name: 'E{sub|LMN} [mV m{sup|-1}]', gap: 32, fs: 13, manual: true });
line(p, T2, eN, '#ff0000', 1, { markLine: markLine(std([ZERO])) });
line(p, T2, eL, '#0000ff', 1);
line(p, T2, eM, '#00dd00', 1);
leg(MX + 5, 341, 'E{s|L}', '#0000ff'); leg(MX + 5, 349, 'E{s|M}', '#00dd00'); leg(MX + 5, 357, 'E{s|N}', '#ff0000');

p = panel({ x: MX, top: 411, w: MW, h: 74, ymin: -15, ymax: 15, ticks: [10,0,-10], side: 'right', name: 'E{sub|M} [mW m{sup|-2}]', gap: 30, fs: 12 });
line(p, T2, vexbM, '#555555', 1, { markLine: markLine(std([ZERO])) });
line(p, T2, eM, '#00aa00', 1);
leg(MX + 5, 418, '(VexB){s|M}', '#555555'); leg(MX + 5, 430, 'E{s|M}', '#00dd00');

p = panel({ x: MX, top: 485, w: MW, h: 73, ymin: 0.006, ymax: 0.134, ticks: [0.02,0.04,0.06,0.08,0.10,0.12], fmt: v => v.toFixed(2), name: '|J| [μA m{sup|-2}]', gap: 30, fs: 13, manual: true });
line(p, T1, jMag, '#000000', 1.4, { markLine: markLine(std()) });
leg(MX + 5, 500, '|J|', '#555555');

p = panel({ x: MX, top: 558, w: MW, h: 74, ymin: -0.1, ymax: 0.131, ticks: [0.10,0.05,0,-0.05], fmt: v => v.toFixed(2), side: 'right', name: 'J [μA m{sup|-2}]', gap: 36, fs: 12, lh: 8 });
line(p, T1, jL, '#0000ff', 2.2, { markLine: markLine(std([ZERO])) });
line(p, T1, jM, '#00ee00', 2.8);
line(p, T1, jN, '#ff0000', 2.8);
leg(MX + 5, 562, 't_maxJ', '#ff00ff', [2, 2]); leg(MX + 5, 570, 'J{s|L}', '#0000ff'); leg(MX + 5, 578, 'J{s|M}', '#00dd00'); leg(MX + 5, 586, 'J{s|N}', '#ff0000');

p = panel({ x: MX, top: 632, w: MW, h: 74, ymin: -1.7, ymax: 1.3, ticks: [-1,0,1], name: "J*E' [nW m{sup|-3}]", gap: 30, xLabels: true });
line(p, T1, jDotE, '#000000', 1.2, { markLine: markLine(std([{ yAxis: 0, lineStyle: { color: '#777', type: [1, 2], width: 1 } }])) });
leg(MX + 5, 643, "J*E'", '#555555');

// ---------- TEXT ----------
function txt(x, y, s, o) {
  o = o || {};
  graphics.push({ type: 'text', x, y, z: 100, style: { text: s, fill: o.color || '#000', font: o.font || ('13px ' + FONT),
    textAlign: o.align || 'left', align: o.align || 'left', textVerticalAlign: 'middle', verticalAlign: 'middle', rich: o.rich } });
}
txt(29, 8, 'Plot Layout GP 19/10/2018', { font: '11px ' + FONT });
txt(300, 21, 'MMS2', { font: '20px ' + FONT, align: 'center' });
txt(400, 20, '20180309_095803', { font: 'bold 20px ' + FONT, color: '#a00000' });
txt(627, 8, 'Plot layout GP 19/10/2018', { font: '11px ' + FONT });
txt(894, 29, 'MMS2', { font: '20px ' + FONT, align: 'center' });
txt(996, 20, '20180309_095803', { font: 'bold 20px ' + FONT, color: '#a00000' });
txt(625, 626, '(x10{p|-2})', { font: '13px ' + FONT, rich: { p: { fontSize: 9, fontFamily: FONT, fill: '#000', padding: [0, 0, 8, 0] } } });

const leftTickX = [165, 271, 377, 483], midTickX = [762, 867, 972, 1077];
[['X', posX, 757], ['Y', posY, 775], ['Z', posZ, 793]].forEach(r => {
  txt(52, r[2], r[0], { align: 'center' });
  r[1].forEach((v, i) => txt(leftTickX[i], r[2], v, { align: 'center' }));
  txt(548, r[2], 'Re', { align: 'center' });
});
[['X', posX, 742], ['Y', posY, 760], ['Z', posZ, 777]].forEach(r => {
  txt(650, r[2], r[0], { align: 'center' });
  r[1].forEach((v, i) => txt(midTickX[i], r[2], v, { align: 'center' }));
  txt(1146, r[2], 'Re', { align: 'center' });
});
txt(590, 832, 'paschmann 01-Dec-2018 08:34', { align: 'right' });
txt(1188, 832, 'paschmann 01-Dec-2018 08:34', { align: 'right' });

function row(a, b) { return a.padEnd(18) + ': ' + b; }
const blank = ''.padEnd(18) + ':';
const infoLines = [':',
  row(' Event ID', '20180309_095803'), row(' FlagStr', 'sw,udef,nmon,mf,s,compl,keep'), row(' GSEpos [Re]', '[ 13.51, -9.05, 5.15 ]'), blank,
  row(' LMN coords', ''), row('    L', '[ -0.378,  0.121,  0.918 ]'), row('    M', '[  0.139,  0.988, -0.073 ]'), row('    N', '[  0.915, -0.100,  0.390 ]'), blank,
  row('  Times', '(as indicated by red, green lines in plots)'), row('    t_0', '09:58:37  (red dotted line)'), row('    t_MVAB1', '09:57:27  (leftmost green line)'), row('    t_MVAB2', '10:00:16  (rightmost green line)'), blank,
  row('|Bmin|, |Vmax|', ''), row('    Bmin', '4.40 [nT]  at 09:58:06'), row('    Vmax_tht', '382.42 [km/s]  at 09:59:06'), row('    Vmax_tburst', '382.42 [km/s]  at 09:59:02'), blank,
  row(' Normals', ''), row('    N MVAB', '[  0.915, -0.100,  0.390 ]   (L2/L1 = 4.74)'), row('    N MVAB0', '[  0.370, -0.844,  0.387 ]   (L3/L2 = 2.71)'), row('    N MFR', '[ -0.905,  0.136, -0.402 ]   (L2/L1 = 3.67)'), blank,
  row(' Durations [s]', '(between red, resp green lines)'), row('    T_CS', '124.51'), row('    T_MFR/HT', '249.02'), blank,
  row(' Velocity [km/s]', '(based on FPI ion data)'), row('    VnMFR', '345.9'), row('    VHT.Nmvab', '355.0  (HTcc = 0.998)'), row('    VHT.Nmvab0', '166.0'), blank,
  row(' CS thickness [km]', '(D=T_CS * Vs from above)'), row('    D1=TCS*Vnmfr', '43,067'), row('    D2=TCS*VHTn', '44,208'), row('    D3=TCS*VHTn0', '20,667'), blank,
  row(' Currents [uA/m2]', ''), row('    Jave_CS', '0.040'), row('    Jmax_THT', '0.135  at 09:59:55'), row('    Jmax_brst', '0.135  at 09:59:55'), blank,
  row(' HPCA mom [1/cm3]', '  Min  -  Max    (  Ave   )  within full brst int'), row('    H+', '  2.044 -  2.657  (  2.657 )'), row('    He+', '  0.000 -  0.009  (  0.000 )'), row('    He++', '  0.154 -  0.334  (  0.259 )'), row('    O+', '  0.000 -  0.011  (  0.011 )'), blank,
  row(' SEH date', '2019-11-29 09:07:30'), blank];
infoLines.forEach((s, i) => txt(1217, 16 + i * 15, s, { font: '11.5px "DejaVu Sans Mono", monospace' }));

const chart = echarts.init(document.getElementById('c'), null, { renderer: 'canvas' });
chart.setOption({ animation: false, backgroundColor: '#fff', grid: grids, xAxis: xAxes, yAxis: yAxes, series, visualMap: visualMaps, graphic: graphics });

// dense tick labels placed through the axis scale (ECharts would hide overlapping ones)
manualLabels.forEach(m => {
  m.ticks.forEach(v => {
    const y = chart.convertToPixel({ yAxisIndex: m.yi }, v);
    const left = m.side === 'left';
    txt(left ? m.x - 3 : m.x + m.w + 3, y, m.fmt ? m.fmt(v) : String(v), { align: left ? 'right' : 'left', font: m.fs + 'px ' + FONT });
  });
});
chart.setOption({ graphic: graphics });
</script></body></html>
